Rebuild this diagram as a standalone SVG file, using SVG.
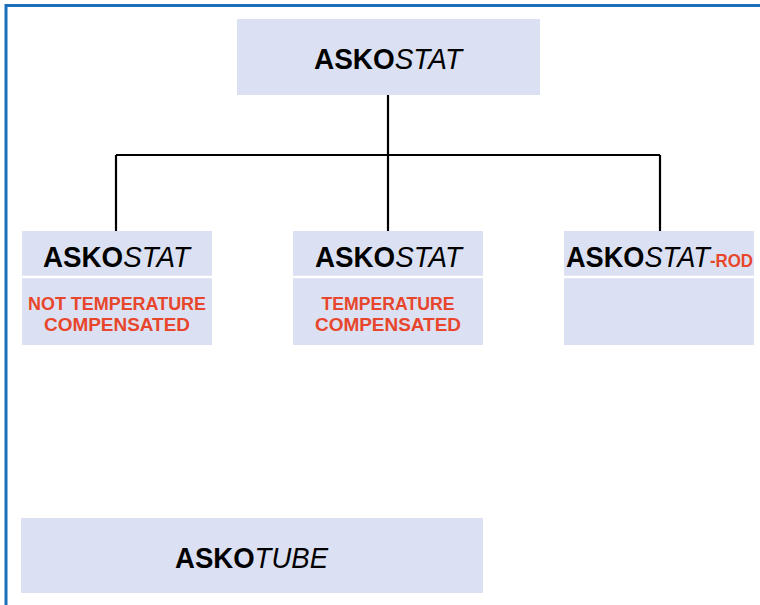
<svg xmlns="http://www.w3.org/2000/svg" width="760" height="605" viewBox="0 0 760 605">
<style>
.box{fill:#dbe1f2}
.sep{stroke:#ffffff;stroke-width:2.5}
.t{font-family:"Liberation Sans",Arial,sans-serif;font-size:29px;fill:#000}
.b{font-weight:bold}
.i{font-style:italic;font-weight:normal}
.r{font-family:"Liberation Sans",Arial,sans-serif;font-size:18px;font-weight:bold;fill:#e8462c}
.rod{font-size:18px;font-weight:bold;font-style:normal;fill:#e8462c}
.con{stroke:#000;stroke-width:2.2;fill:none}
</style>
<rect x="0" y="0" width="760" height="605" fill="#fff"/>
<path d="M6 605 V5.5 H760" stroke="#1c6fba" stroke-width="3" fill="none"/>
<g id="connectors">
<path class="con" d="M388 95 V155"/>
<path class="con" d="M116 155 H660"/>
<path class="con" d="M116 155 V232"/>
<path class="con" d="M388 155 V232"/>
<path class="con" d="M660 155 V232"/>
</g>
<g id="top">
<rect class="box" x="237" y="19" width="303" height="76"/>
<text class="t" x="314" y="69" textLength="148" lengthAdjust="spacingAndGlyphs"><tspan class="b">ASKO</tspan><tspan class="i">STAT</tspan></text>
</g>
<g id="node1">
<rect class="box" x="22" y="231" width="190" height="114"/>
<line class="sep" x1="22" y1="277" x2="212" y2="277"/>
<text class="t" x="43" y="267" textLength="147" lengthAdjust="spacingAndGlyphs"><tspan class="b">ASKO</tspan><tspan class="i">STAT</tspan></text>
<text class="r" x="117" y="310" text-anchor="middle" textLength="178" lengthAdjust="spacingAndGlyphs">NOT TEMPERATURE</text>
<text class="r" x="117" y="331" text-anchor="middle" textLength="146" lengthAdjust="spacingAndGlyphs">COMPENSATED</text>
</g>
<g id="node2">
<rect class="box" x="293" y="231" width="190" height="114"/>
<line class="sep" x1="293" y1="277" x2="483" y2="277"/>
<text class="t" x="315" y="267" textLength="147" lengthAdjust="spacingAndGlyphs"><tspan class="b">ASKO</tspan><tspan class="i">STAT</tspan></text>
<text class="r" x="388" y="310" text-anchor="middle" textLength="133" lengthAdjust="spacingAndGlyphs">TEMPERATURE</text>
<text class="r" x="388" y="331" text-anchor="middle" textLength="146" lengthAdjust="spacingAndGlyphs">COMPENSATED</text>
</g>
<g id="node3">
<rect class="box" x="564" y="231" width="190" height="114"/>
<line class="sep" x1="564" y1="277" x2="754" y2="277"/>
<text class="t" x="566" y="267" textLength="187" lengthAdjust="spacingAndGlyphs"><tspan class="b">ASKO</tspan><tspan class="i">STAT</tspan><tspan class="rod">-ROD</tspan></text>
</g>
<g id="tube">
<rect class="box" x="21" y="518" width="462" height="75"/>
<text class="t" x="175" y="568" textLength="153" lengthAdjust="spacingAndGlyphs"><tspan class="b">ASKO</tspan><tspan class="i">TUBE</tspan></text>
</g>
</svg>
